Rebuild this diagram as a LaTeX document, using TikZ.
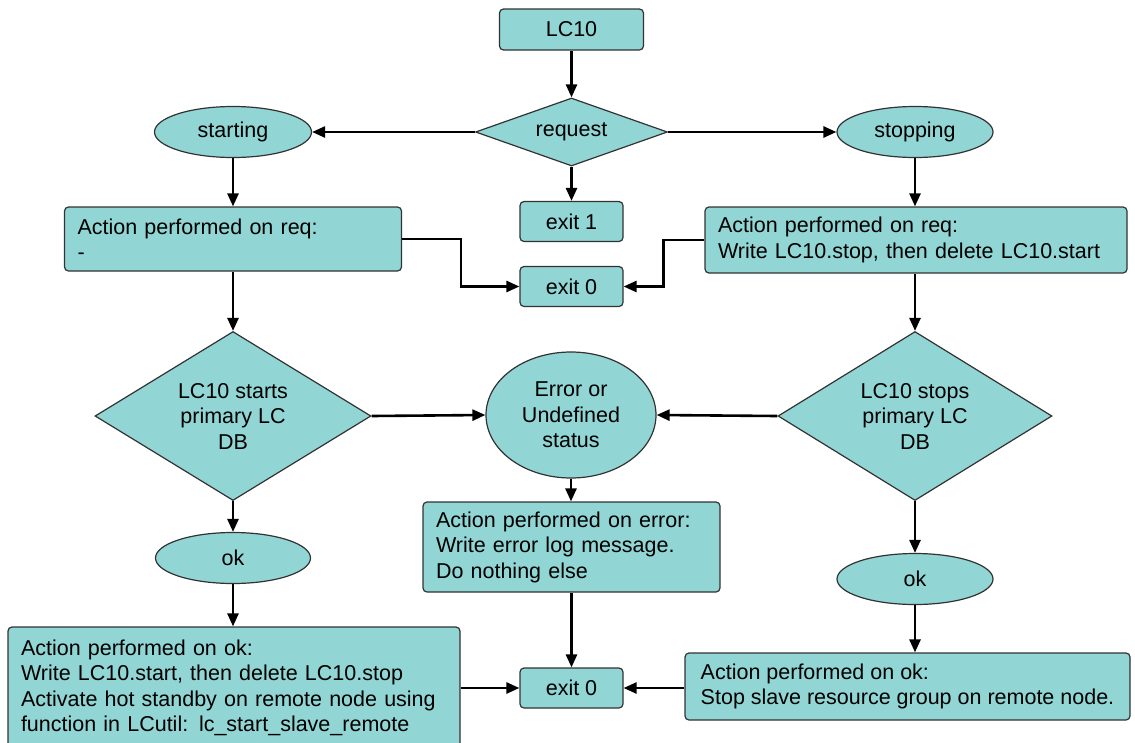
\documentclass[tikz,border=0pt]{standalone}
\usepackage{fontspec}
\setmainfont{Liberation Sans}
\usetikzlibrary{arrows.meta,shapes.geometric}
\definecolor{FlowTeal}{RGB}{145,213,213}
\definecolor{EdgeGray}{RGB}{50,50,50}
\tikzset{
  base/.style={draw=EdgeGray,fill=FlowTeal,line width=1.2pt,inner sep=0pt,
    font=\fontsize{21.5}{25.5}\selectfont},
  exitbox/.style={base,rounded corners=4pt,minimum width=103pt,
    minimum height=40pt},
  action/.style={base,rounded corners=4pt,align=left,inner xsep=13pt},
  decision/.style={base,diamond,align=center},
  state/.style={base,ellipse,align=center},
  arrow/.style={-{Triangle[length=13pt,width=11pt]},line width=2.6pt}
}

\begin{document}
\begin{tikzpicture}[x=1pt,y=-1pt]
\useasboundingbox (0,0) rectangle (1135,742);

% request dispatch
\node[exitbox,minimum width=144pt,minimum height=41pt] (lc) at (571.5,29.5) {LC10};
\node[decision,aspect=2.8,minimum width=192pt,minimum height=68pt] (req)
  at (571.5,132) {request};
\node[state,minimum width=157pt,minimum height=51pt] (start) at (233,132) {starting};
\node[state,minimum width=156pt,minimum height=51pt] (stop) at (915,132) {stopping};
\node[exitbox] (exitone) at (571.5,221.5) {exit 1};

\node[action,text width=311pt,minimum height=64pt] (lreq) at (233,239)
  {Action performed on req:\\-};
\node[action,text width=396pt,minimum height=66pt] (rreq) at (916,240)
  {Action performed on req:\\Write LC10.stop, then delete LC10.start};
\node[exitbox] (exitzero) at (571.5,286.5) {exit 0};

% primary LC DB checks
\node[decision,aspect=1.63,minimum width=276pt,minimum height=169pt] (startdb)
  at (233,416) {LC10 starts\\primary LC\\DB};
\node[decision,aspect=1.63,minimum width=274pt,minimum height=169pt] (stopdb)
  at (915,416) {LC10 stops\\primary LC\\DB};
\node[state,minimum width=170pt,minimum height=126pt] (err) at (571,415)
  {Error or\\Undefined\\status};
\node[action,text width=271pt,minimum height=90pt] (errbox) at (571.5,547)
  {Action performed on error:\\Write error log message.\\Do nothing else};

% ok branches
\node[state,minimum width=155pt,minimum height=51pt] (okstart) at (233,558) {ok};
\node[state,minimum width=156pt,minimum height=51pt] (okstop) at (915,579) {ok};
\node[action,text width=426pt,minimum height=122pt] (okl) at (234,688)
  {Action performed on ok:\\Write LC10.start, then delete LC10.stop\\
   Activate hot standby on remote node using\\
   function in LCutil: lc\_start\_slave\_remote};
\node[action,inner xsep=0pt,minimum width=445pt,minimum height=67pt] (okr)
  at (907.5,686.5)
  {Action performed on ok:\\Stop slave resource group on remote node.};
\node[exitbox] (exitlast) at (571.5,688) {exit 0};

\draw[arrow] (lc) -- (req);
\draw[arrow] (req.west) -- (start.east);
\draw[arrow] (req.east) -- (stop.west);
\draw[arrow] (req.south) -- (exitone.north);
\draw[arrow] (start.south) -- (lreq.north);
\draw[arrow] (stop.south) -- (stop.south |- rreq.north);
\draw[arrow] (lreq.east) -- ++(59,0) |- (exitzero.west);
\draw[arrow] (rreq.west) -- ++(-41,0) |- (exitzero.east);
\draw[arrow] (lreq.south) -- (startdb.north);
\draw[arrow] (rreq.south -| stopdb.north) -- (stopdb.north);
\draw[arrow] (startdb.east) -- (err.west);
\draw[arrow] (stopdb.west) -- (err.east);
\draw[arrow] (err.south) -- (err.south |- errbox.north);
\draw[arrow] (startdb.south) -- (okstart.north);
\draw[arrow] (stopdb.south) -- (okstop.north);
\draw[arrow] (okstart.south) -- (okstart.south |- okl.north);
\draw[arrow] (okstop.south) -- (okstop.south |- okr.north);
\draw[arrow] (errbox.south) -- (exitlast.north);
\draw[arrow] (okl.east) -- (exitlast.west);
\draw[arrow] (okr.west |- exitlast.east) -- (exitlast.east);
\end{tikzpicture}
\end{document}
